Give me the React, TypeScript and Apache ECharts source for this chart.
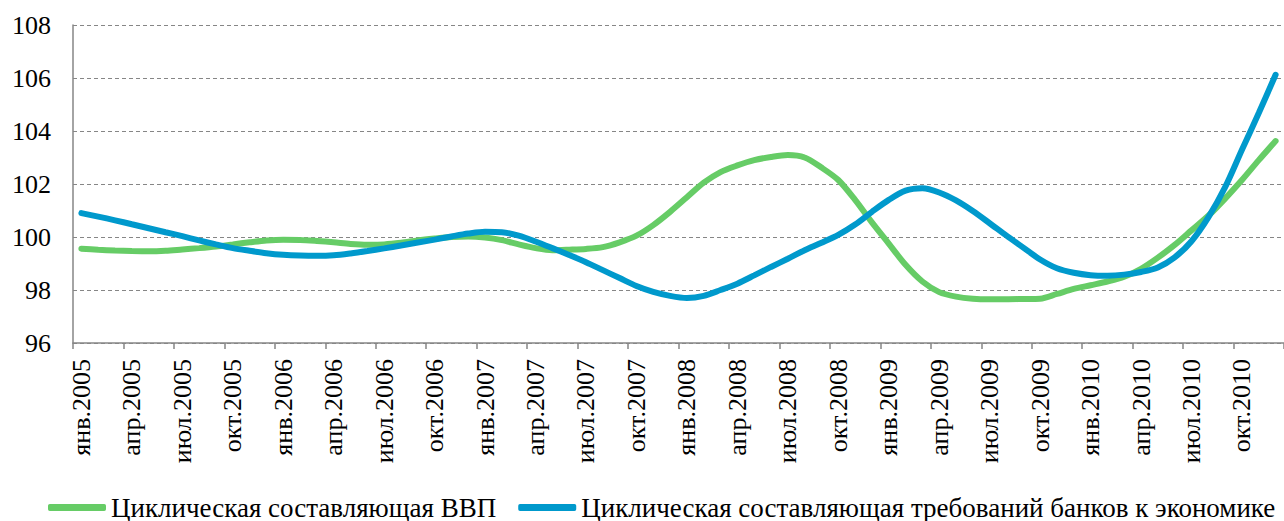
import React, { useEffect, useRef } from "react";
import * as echarts from "echarts";

const years = [2005, 2006, 2007, 2008, 2009, 2010];
const monthNames = ["янв", "фев", "мар", "апр", "май", "июн", "июл", "авг", "сен", "окт", "ноя", "дек"];
const categories = years.flatMap((y) => monthNames.map((m) => `${m}.${y}`));

const seriesNames = [
  "Циклическая составляющая ВВП",
  "Циклическая составляющая требований банков к экономике",
];

// Cyclical component of GDP (monthly, Jan 2005 – Dec 2010)
const gdpCycle = [
  99.56, 99.52, 99.49, 99.47, 99.46, 99.48, 99.53, 99.58, 99.64, 99.72, 99.8, 99.87,
  99.9, 99.89, 99.85, 99.8, 99.74, 99.71, 99.72, 99.78, 99.87, 99.94, 100.0, 100.02,
  99.98, 99.88, 99.72, 99.58, 99.5, 99.52, 99.55, 99.62, 99.8, 100.05, 100.45, 100.95,
  101.5, 102.05, 102.45, 102.7, 102.9, 103.02, 103.09, 103.0, 102.62, 102.15, 101.4, 100.55,
  99.75, 98.95, 98.32, 97.92, 97.75, 97.67, 97.65, 97.65, 97.66, 97.67, 97.85, 98.04,
  98.18, 98.32, 98.5, 98.8, 99.22, 99.7, 100.25, 100.8, 101.45, 102.15, 102.9, 103.62,
];

// Cyclical component of bank claims on the economy
const creditCycle = [
  100.9, 100.77, 100.63, 100.48, 100.33, 100.18, 100.03, 99.87, 99.72, 99.58, 99.48, 99.39,
  99.33, 99.3, 99.29, 99.31, 99.38, 99.47, 99.57, 99.68, 99.79, 99.9, 100.02, 100.13,
  100.2, 100.18, 100.05, 99.83, 99.58, 99.32, 99.05, 98.75, 98.45, 98.15, 97.93, 97.78,
  97.7, 97.78, 98.0, 98.24, 98.55, 98.87, 99.18, 99.5, 99.78, 100.08, 100.47, 100.95,
  101.4, 101.75, 101.84, 101.68, 101.38, 100.98, 100.52, 100.05, 99.6, 99.15, 98.82, 98.65,
  98.56, 98.54, 98.58, 98.68, 98.85, 99.23, 99.84, 100.74, 101.88, 103.29, 104.68, 106.12,
];

const yMin = 96;
const yMax = 108;
const yStep = 2;

const FONT = "Liberation Serif";
const GRAY = "#868686";
const GREEN = "#66CC66";
const BLUE = "#0099CC";

export default function App() {
  const ref = useRef<HTMLDivElement>(null);

  useEffect(() => {
    if (!ref.current) return;
    const chart = echarts.init(ref.current, undefined, { renderer: "svg" });
    chart.setOption({
      animation: false,
      backgroundColor: "#ffffff",
      textStyle: { fontFamily: FONT },
      grid: { left: 73, right: -8, top: 25, bottom: 178, containLabel: false },
      legend: {
        left: 43,
        top: 489,
        itemWidth: 58,
        itemHeight: 7,
        itemGap: 22,
        icon: "roundRect",
        textStyle: { fontFamily: FONT, fontSize: 27, color: "#000" },
        data: seriesNames,
      },
      xAxis: {
        type: "category",
        data: categories,
        boundaryGap: true,
        axisLine: { show: true, lineStyle: { color: GRAY, width: 1.5 } },
        axisTick: { show: true, interval: 2, length: 6, lineStyle: { color: GRAY, width: 1.5 } },
        axisLabel: {
          interval: 2,
          rotate: 90,
          margin: 16,
          fontFamily: FONT,
          fontSize: 26,
          color: "#000",
        },
        splitLine: { show: false },
      },
      yAxis: {
        type: "value",
        min: yMin,
        max: yMax,
        interval: yStep,
        axisLine: { show: true, lineStyle: { color: GRAY, width: 1.5 } },
        axisTick: { show: false },
        axisLabel: { margin: 22, fontFamily: FONT, fontSize: 26, color: "#000" },
        splitLine: { show: true, lineStyle: { color: GRAY, width: 1.2, type: [4, 3] } },
      },
      series: [
        {
          name: seriesNames[0],
          type: "line",
          data: gdpCycle,
          smooth: 0.3,
          symbol: "none",
          color: GREEN,
          lineStyle: { color: GREEN, width: 6, cap: "round" },
          z: 2,
        },
        {
          name: seriesNames[1],
          type: "line",
          data: creditCycle,
          smooth: 0.3,
          symbol: "none",
          color: BLUE,
          lineStyle: { color: BLUE, width: 6, cap: "round" },
          z: 3,
        },
      ],
    });
    return () => chart.dispose();
  }, []);

  return (
    <div
      ref={ref}
      style={{ position: "absolute", left: 0, top: 0, width: 1284, height: 521 }}
    />
  );
}
